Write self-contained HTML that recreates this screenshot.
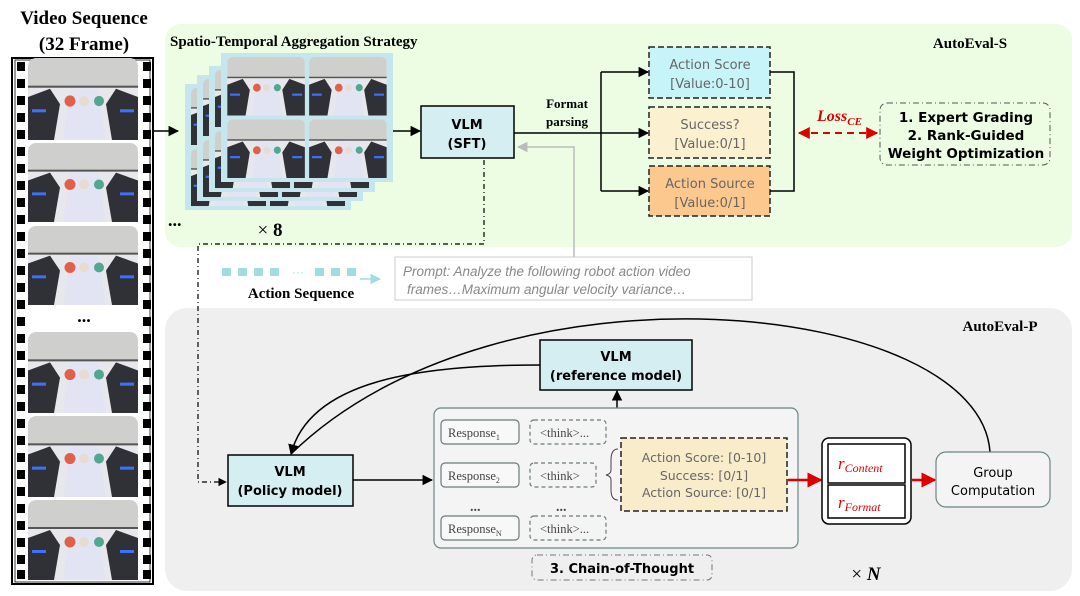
<!DOCTYPE html>
<html><head><meta charset="utf-8"><style>
body{margin:0;background:#fff;}
svg{display:block;}
.c{font-family:"Comic Sans MS","DejaVu Sans",sans-serif;}
.t{font-family:"Liberation Serif",serif;font-weight:bold;}
</style></head><body>
<svg width="1080" height="596" viewBox="0 0 1080 596" xmlns="http://www.w3.org/2000/svg">
<defs>
<marker id="a" viewBox="0 0 10 10" refX="9" refY="5" markerWidth="7" markerHeight="7" orient="auto"><path d="M0,0L10,5L0,10z" fill="#000"/></marker>
<marker id="ag" viewBox="0 0 10 10" refX="9" refY="5" markerWidth="7" markerHeight="7" orient="auto"><path d="M0,0L10,5L0,10z" fill="#bbb"/></marker>
<marker id="ac" viewBox="0 0 10 10" refX="9" refY="5" markerWidth="7" markerHeight="7" orient="auto"><path d="M0,0L10,5L0,10z" fill="#9fdde2"/></marker>
<marker id="ar" viewBox="0 0 10 10" refX="9" refY="5" markerWidth="6" markerHeight="6" orient="auto"><path d="M0,0L10,5L0,10z" fill="#d00"/></marker>
<marker id="arl" viewBox="0 0 10 10" refX="1" refY="5" markerWidth="6" markerHeight="6" orient="auto"><path d="M10,0L0,5L10,10z" fill="#d00"/></marker>
<symbol id="f" viewBox="0 0 110 80" preserveAspectRatio="none">
<rect width="110" height="80" rx="9" fill="#e8e8ec"/>
<path d="M0,9 Q0,0 9,0 H101 Q110,0 110,9 V28 H0z" fill="#cfd0ce"/>
<rect x="0" y="27" width="110" height="2" fill="#555"/>
<path d="M35,80 L42,30 L70,30 L78,80z" fill="#e2e4f4"/>
<path d="M0,38 L22,30 L32,45 L26,80 L0,80z" fill="#2f3136"/>
<path d="M110,38 L88,30 L78,45 L84,80 L110,80z" fill="#2f3136"/>
<rect x="4" y="50" width="14" height="3" fill="#3c70ff"/>
<rect x="92" y="50" width="14" height="3" fill="#3c70ff"/>
<circle cx="42" cy="42" r="5.5" fill="#e0604a"/>
<circle cx="56" cy="42" r="5" fill="#e6ddd0"/>
<circle cx="71" cy="42" r="5" fill="#4fa88f"/>
</symbol>
<symbol id="g" viewBox="0 0 166 130" preserveAspectRatio="none">
<rect width="166" height="130" fill="#c6e6ee"/>
<use href="#f" x="6" y="4" width="75" height="59"/>
<use href="#f" x="85" y="4" width="75" height="59"/>
<use href="#f" x="6" y="67" width="75" height="59"/>
<use href="#f" x="85" y="67" width="75" height="59"/>
</symbol>
</defs>

<rect x="165" y="24" width="907" height="223" rx="16" fill="#ecfde4"/>
<rect x="165" y="308" width="907" height="283" rx="22" fill="#efefef"/>

<text x="84" y="24" text-anchor="middle" class="t" font-size="19">Video Sequence</text>
<text x="84" y="50" text-anchor="middle" class="t" font-size="19">(32 Frame)</text>
<text x="170" y="46" class="t" font-size="15">Spatio-Temporal Aggregation Strategy</text>
<text x="970" y="48" text-anchor="middle" class="t" font-size="15">AutoEval-S</text>
<text x="1000" y="331" text-anchor="middle" class="t" font-size="15">AutoEval-P</text>

<rect x="12" y="58" width="141" height="526" fill="#fff" stroke="#000" stroke-width="2"/>
<rect x="15" y="60" width="135" height="522" fill="none" stroke="#000" stroke-width="0.8"/>
<g fill="#000">
<path d="M17 62h8v9h-8zM17 79h8v9h-8zM17 96h8v9h-8zM17 113h8v9h-8zM17 130h8v9h-8zM17 147h8v9h-8zM17 164h8v9h-8zM17 181h8v9h-8zM17 198h8v9h-8zM17 215h8v9h-8zM17 232h8v9h-8zM17 249h8v9h-8zM17 266h8v9h-8zM17 283h8v9h-8zM17 300h8v9h-8zM17 317h8v9h-8zM17 334h8v9h-8zM17 351h8v9h-8zM17 368h8v9h-8zM17 385h8v9h-8zM17 402h8v9h-8zM17 419h8v9h-8zM17 436h8v9h-8zM17 453h8v9h-8zM17 470h8v9h-8zM17 487h8v9h-8zM17 504h8v9h-8zM17 521h8v9h-8zM17 538h8v9h-8zM17 555h8v9h-8zM17 570h8v9h-8z"/>
<path d="M143 62h8v9h-8zM143 79h8v9h-8zM143 96h8v9h-8zM143 113h8v9h-8zM143 130h8v9h-8zM143 147h8v9h-8zM143 164h8v9h-8zM143 181h8v9h-8zM143 198h8v9h-8zM143 215h8v9h-8zM143 232h8v9h-8zM143 249h8v9h-8zM143 266h8v9h-8zM143 283h8v9h-8zM143 300h8v9h-8zM143 317h8v9h-8zM143 334h8v9h-8zM143 351h8v9h-8zM143 368h8v9h-8zM143 385h8v9h-8zM143 402h8v9h-8zM143 419h8v9h-8zM143 436h8v9h-8zM143 453h8v9h-8zM143 470h8v9h-8zM143 487h8v9h-8zM143 504h8v9h-8zM143 521h8v9h-8zM143 538h8v9h-8zM143 555h8v9h-8zM143 570h8v9h-8z"/>
</g>
<use href="#f" x="28" y="58" width="110" height="82"/>
<use href="#f" x="28" y="143" width="110" height="79"/>
<use href="#f" x="28" y="226" width="110" height="79"/>
<text x="84" y="322" text-anchor="middle" class="t" font-size="18">...</text>
<use href="#f" x="28" y="332" width="110" height="81"/>
<use href="#f" x="28" y="416" width="110" height="81"/>
<use href="#f" x="28" y="500" width="110" height="80"/>

<line x1="153" y1="131" x2="178" y2="131" stroke="#000" stroke-width="1.5" marker-end="url(#a)"/>

<use href="#g" x="185" y="84" width="166" height="126"/>
<use href="#g" x="197" y="75" width="166" height="126"/>
<use href="#g" x="209" y="66" width="166" height="126"/>
<use href="#g" x="221" y="53" width="172" height="129"/>
<text x="168" y="226" class="t" font-size="18">...</text>
<text x="270" y="236" text-anchor="middle" font-family="Liberation Serif,serif" font-size="19"><tspan>× </tspan><tspan font-weight="bold">8</tspan></text>

<line x1="393" y1="131" x2="420" y2="131" stroke="#000" stroke-width="1.5" marker-end="url(#a)"/>
<rect x="421" y="106" width="93" height="52" fill="#d5eef2" stroke="#000" stroke-width="1.5"/>
<text x="467" y="129" text-anchor="middle" class="c" font-size="13" font-weight="bold">VLM</text>
<text x="467" y="148" text-anchor="middle" class="c" font-size="13" font-weight="bold">(SFT)</text>

<text x="567" y="108" text-anchor="middle" class="t" font-size="13">Format</text>
<text x="567" y="126" text-anchor="middle" class="t" font-size="13">parsing</text>
<path d="M514,133 H601 M601,72 V191" stroke="#000" stroke-width="1.5" fill="none"/>
<line x1="601" y1="72" x2="648" y2="72" stroke="#000" stroke-width="1.5" marker-end="url(#a)"/>
<line x1="601" y1="133" x2="648" y2="133" stroke="#000" stroke-width="1.5" marker-end="url(#a)"/>
<line x1="601" y1="191" x2="648" y2="191" stroke="#000" stroke-width="1.5" marker-end="url(#a)"/>

<g stroke="#222" stroke-width="1.5" stroke-dasharray="6,3">
<rect x="649" y="47" width="121" height="51" fill="#c6f4f8"/>
<rect x="649" y="107" width="121" height="51" fill="#fbf0d0"/>
<rect x="649" y="166" width="121" height="50" fill="#fdc88e"/>
</g>
<g class="c" font-size="13" fill="#666" text-anchor="middle">
<text x="710" y="69">Action Score</text><text x="710" y="88">[Value:0-10]</text>
<text x="710" y="129">Success?</text><text x="710" y="148">[Value:0/1]</text>
<text x="710" y="188">Action Source</text><text x="710" y="207">[Value:0/1]</text>
</g>
<path d="M770,72 H794 V191 H770" stroke="#000" stroke-width="1.5" fill="none"/>
<text x="817" y="121" font-family="Liberation Serif,serif" font-style="italic" font-weight="bold" font-size="16" fill="#d00">Loss<tspan font-size="11" dy="4">CE</tspan></text>
<line x1="799" y1="133" x2="877" y2="133" stroke="#d00" stroke-width="2" stroke-dasharray="7,5" marker-start="url(#arl)" marker-end="url(#ar)"/>
<rect x="880" y="103" width="170" height="62" rx="7" fill="none" stroke="#555" stroke-width="1" stroke-dasharray="6,3,1,3"/>
<g class="c" font-size="13.5" font-weight="bold" text-anchor="middle">
<text x="966" y="122">1. Expert Grading</text>
<text x="966" y="140">2. Rank-Guided</text>
<text x="966" y="158">Weight Optimization</text>
</g>

<path d="M574,258 V147 H518" stroke="#bbb" stroke-width="1.5" fill="none" marker-end="url(#ag)"/>
<rect x="395" y="257" width="357" height="43" fill="#fff" stroke="#ccc" stroke-width="1"/>
<g font-family="Liberation Sans,sans-serif" font-style="italic" font-size="13.5" fill="#888">
<text x="403" y="276">Prompt: Analyze the following robot action video</text>
<text x="407" y="294">frames…Maximum angular velocity variance…</text>
</g>
<g fill="#9fdde2">
<rect x="222" y="268" width="9" height="8"/><rect x="238" y="268" width="9" height="8"/><rect x="254" y="268" width="9" height="8"/><rect x="270" y="268" width="9" height="8"/>
<rect x="315" y="268" width="9" height="8"/><rect x="331" y="268" width="9" height="8"/><rect x="347" y="268" width="9" height="8"/>
</g>
<text x="298" y="276" text-anchor="middle" font-size="12" fill="#9fdde2" font-family="Liberation Sans,sans-serif">···</text>
<line x1="360" y1="279" x2="380" y2="279" stroke="#9fdde2" stroke-width="1.5" marker-end="url(#ac)"/>
<text x="301" y="298" text-anchor="middle" class="t" font-size="15">Action Sequence</text>

<path d="M484,160 V244 H198 V482 H226" stroke="#000" stroke-width="1.2" fill="none" stroke-dasharray="5,3,1,3" marker-end="url(#a)"/>

<path d="M990,452 C980,300 500,250 291,454" stroke="#000" stroke-width="1.5" fill="none"/>
<path d="M540,365 C420,365 310,380 291,454" stroke="#000" stroke-width="1.5" fill="none" marker-end="url(#a)"/>
<rect x="228" y="455" width="125" height="51" fill="#d5eef2" stroke="#000" stroke-width="1.5"/>
<text x="290" y="476" text-anchor="middle" class="c" font-size="13" font-weight="bold">VLM</text>
<text x="290" y="495" text-anchor="middle" class="c" font-size="13" font-weight="bold">(Policy model)</text>
<rect x="540" y="340" width="152" height="50" fill="#d5eef2" stroke="#000" stroke-width="1.5"/>
<text x="616" y="361" text-anchor="middle" class="c" font-size="13" font-weight="bold">VLM</text>
<text x="616" y="380" text-anchor="middle" class="c" font-size="13" font-weight="bold">(reference model)</text>
<line x1="353" y1="480" x2="432" y2="480" stroke="#000" stroke-width="1.5" marker-end="url(#a)"/>
<line x1="617" y1="408" x2="617" y2="391" stroke="#000" stroke-width="1.5" marker-end="url(#a)"/>

<rect x="434" y="408" width="364" height="140" rx="7" fill="#f4f4f4" stroke="#6b8585" stroke-width="1.2"/>
<g stroke="#6b7b7b" stroke-width="1.2" fill="#f8f8f8">
<rect x="441" y="420" width="78" height="24" rx="4"/>
<rect x="441" y="463" width="78" height="24" rx="4"/>
<rect x="441" y="516" width="78" height="24" rx="4"/>
</g>
<g stroke="#6b7b7b" stroke-width="1.2" fill="none" stroke-dasharray="4,3">
<rect x="530" y="420" width="76" height="24" rx="4"/>
<rect x="530" y="463" width="66" height="24" rx="4"/>
<rect x="530" y="516" width="76" height="24" rx="4"/>
</g>
<g font-family="Liberation Serif,serif" font-size="12.5" fill="#444">
<text x="448" y="437">Response<tspan font-size="8" dy="3">1</tspan></text>
<text x="448" y="480">Response<tspan font-size="8" dy="3">2</tspan></text>
<text x="448" y="533">Response<tspan font-size="8" dy="3">N</tspan></text>
<text x="540" y="437">&lt;think&gt;...</text>
<text x="540" y="480">&lt;think&gt;</text>
<text x="540" y="533">&lt;think&gt;...</text>
<text x="470" y="511" font-size="14" font-weight="bold">...</text>
<text x="556" y="511" font-size="14" font-weight="bold">...</text>
</g>
<path d="M618,449 Q611,449 611,460 V470 Q611,474 606,475 Q611,476 611,480 V490 Q611,500 618,500" stroke="#444" stroke-width="1" fill="none"/>
<rect x="621" y="438" width="166" height="73" fill="#f8eccb" stroke="#222" stroke-width="1.5" stroke-dasharray="6,3"/>
<g class="c" font-size="12.5" fill="#666" text-anchor="middle">
<text x="704" y="462">Action Score: [0-10]</text>
<text x="704" y="480">Success: [0/1]</text>
<text x="704" y="497">Action Source: [0/1]</text>
</g>
<line x1="788" y1="480" x2="821" y2="480" stroke="#d00" stroke-width="2.5" marker-end="url(#ar)"/>
<rect x="822" y="438" width="89" height="86" rx="7" fill="#fff" stroke="#000" stroke-width="1.5"/>
<rect x="828" y="444" width="77" height="39" fill="#fff" stroke="#000" stroke-width="1.5"/>
<rect x="828" y="485" width="77" height="33" fill="#fff" stroke="#000" stroke-width="1.5"/>
<text x="838" y="469" font-family="Liberation Serif,serif" font-style="italic" font-size="17" fill="#d00">r<tspan font-size="12" dy="3">Content</tspan></text>
<text x="838" y="508" font-family="Liberation Serif,serif" font-style="italic" font-size="17" fill="#d00">r<tspan font-size="12" dy="3">Format</tspan></text>
<text x="866" y="580" text-anchor="middle" font-family="Liberation Serif,serif" font-size="19">× <tspan font-style="italic" font-weight="bold">N</tspan></text>
<line x1="911" y1="480" x2="935" y2="480" stroke="#d00" stroke-width="2.5" marker-end="url(#ar)"/>
<rect x="936" y="452" width="114" height="55" rx="10" fill="#f4f4f4" stroke="#6b8585" stroke-width="1.2"/>
<text x="993" y="477" text-anchor="middle" class="c" font-size="13">Group</text>
<text x="993" y="495" text-anchor="middle" class="c" font-size="13">Computation</text>
<rect x="532" y="555" width="180" height="25" rx="5" fill="none" stroke="#6b7b7b" stroke-width="1" stroke-dasharray="6,3,1,3"/>
<text x="622" y="573" text-anchor="middle" class="c" font-size="13" font-weight="bold">3. Chain-of-Thought</text>
</svg>
</body></html>
